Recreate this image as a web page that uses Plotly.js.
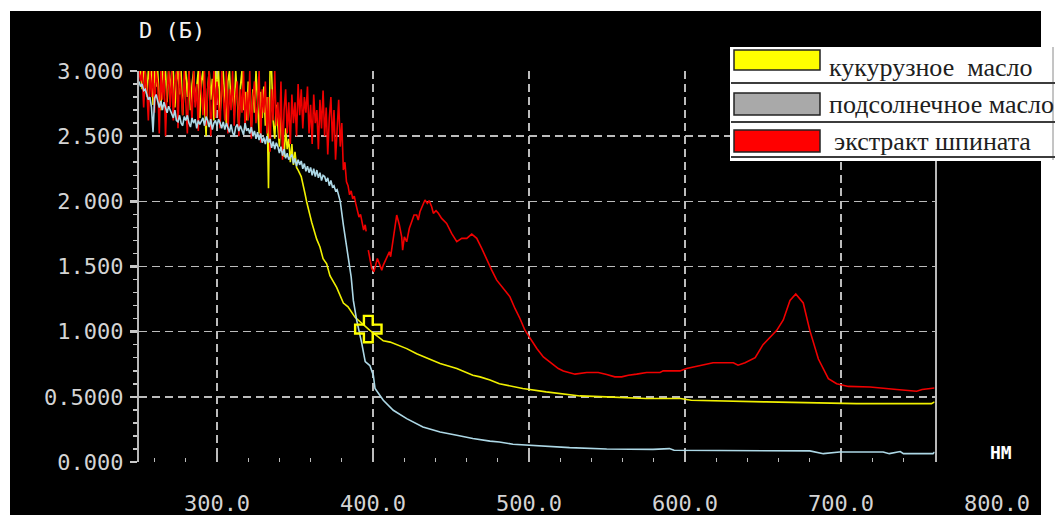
<!DOCTYPE html>
<html><head><meta charset="utf-8">
<script src="https://cdn.plot.ly/plotly-3.0.1.min.js"></script>
<style>html,body{margin:0;padding:0;background:#fff;}#chart{width:1057px;height:515px;}</style>
</head><body><div id="chart"></div>
<script>
// ---- labels ----
const seriesNames = ['кукурузное\u00a0 масло', 'подсолнечное масло', 'экстракт шпината'];
const swatchColors = ['#ffff00', '#a9a9a9', '#ff0000'];
const lineColors = ['#f0f000', '#add8e6', '#f00000'];
const yTickVals = [0, 0.5, 1, 1.5, 2, 2.5, 3];
const yTickText = ['0.000', '0.5000', '1.000', '1.500', '2.000', '2.500', '3.000'];
const xTickVals = [300, 400, 500, 600, 700, 800];
const xTickText = ['300.0', '400.0', '500.0', '600.0', '700.0', '800.0'];
const yTitle = 'D (Б)';
const xUnit = 'НМ';
const dataRange = [250, 760];
const labelRange = [250, 800];
const cursorNm = [397];
const cursorD = [1.02];

// ---- corn oil (кукурузное масло) ----
const cornNm = [
250,251,252,253,254,255,256,257,258,259,
260,261,262,263,264,265,266,267,268,269,
270,271,272,273,274,275,276,277,278,279,
280,281,282,283,284,285,286,287,288,289,
290,291,292,293,294,295,296,297,298,299,
300,301,302,303,304,305,306,307,308,309,
310,311,312,313,314,315,316,317,318,319,
320,321,322,323,324,325,326,327,328,329,
330,331,332,333,334,335,336,337,338,339,
340,341,342,343,344,345,346,347,348,349,
350,351,352,
354,356.4,357.5,360.7,363.9,366,368,370.3,372.4,376.7,381,384,388.5,398,400,406.6,411,415,421.6,428,432,436.5,443,453.7,464,468.6,475,481,496,511,522,532.7,549.8,575,597,604,652,710,758,760];
const cornD = [
3.00,3.00,2.86,3.00,3.00,2.80,3.00,2.92,3.00,2.74,
3.00,2.88,3.00,2.78,2.70,3.00,2.92,3.00,2.76,3.00,
2.86,3.00,3.00,2.72,2.92,3.00,2.82,3.00,2.66,2.92,
3.00,2.80,3.00,2.70,2.90,3.00,2.76,2.88,3.00,2.64,
2.92,3.00,2.74,2.50,2.86,3.00,2.78,2.94,2.62,3.00,
2.84,3.00,2.68,2.88,3.00,2.76,2.60,2.92,3.00,2.74,
2.86,2.66,3.00,2.80,2.56,2.88,3.00,2.70,2.84,2.62,
2.92,2.74,2.58,2.86,2.68,3.00,2.78,2.52,2.84,2.64,
2.88,2.58,2.80,2.10,3.00,3.00,2.62,2.48,2.74,2.55,
2.42,2.66,2.48,2.34,2.56,2.40,2.48,2.30,2.44,2.28,
2.38,2.26,2.24,
2.19,2.06,1.995,1.84,1.71,1.65,1.56,1.52,1.43,1.34,1.22,1.19,1.11,1.01,0.99,0.93,0.92,0.90,0.87,0.83,0.81,0.79,0.756,0.717,0.666,0.653,0.63,0.60,0.564,0.538,0.52,0.507,0.50,0.487,0.487,0.474,0.461,0.448,0.448,0.461];

// ---- sunflower oil (подсолнечное масло) ----
const sunNm = [
250,251,252,253,254,255,256,257,258,259,
260,261,262,263,264,265,266,267,268,269,
270,271,272,273,274,275,276,277,278,279,
280,281,282,283,284,285,286,287,288,289,
290,291,292,293,294,295,296,297,298,299,
300,301,302,303,304,305,306,307,308,309,
310,311,312,313,314,315,316,317,318,319,
320,321,322,323,324,325,326,327,328,329,
330,331,332,333,334,335,336,337,338,339,
340,341,342,343,344,345,346,347,348,349,
350,351,352,353,354,355,356,357,358,359,
360,361,362,363,364,365,366,367,368,369,
370,371,372,373,374,375,376,377,378,
379,381,383.5,386,387.4,388.5,389.5,392.8,395,398,400.2,401.3,406.6,413,421.6,432,443,453.7,464,475,481,489.7,507,526,549.8,579.5,590,593,680,688.7,699,727,731,738,740,759,760];
const sunD = [
2.92,2.88,2.90,2.85,2.86,2.82,2.78,2.80,2.72,2.53,
2.79,2.82,2.76,2.72,2.77,2.70,2.76,2.71,2.68,2.73,
2.70,2.66,2.64,2.70,2.62,2.61,2.66,2.60,2.58,2.65,
2.62,2.66,2.60,2.57,2.64,2.60,2.63,2.56,2.62,2.59,
2.61,2.64,2.58,2.65,2.62,2.57,2.63,2.55,2.60,2.62,
2.58,2.63,2.60,2.56,2.61,2.55,2.60,2.56,2.53,2.59,
2.53,2.50,2.57,2.59,2.54,2.58,2.55,2.51,2.60,2.54,
2.56,2.52,2.57,2.50,2.54,2.48,2.53,2.47,2.52,2.45,
2.49,2.44,2.50,2.45,2.48,2.41,2.46,2.40,2.45,2.42,
2.37,2.42,2.35,2.40,2.33,2.37,2.32,2.34,2.36,2.29,
2.33,2.27,2.32,2.28,2.31,2.25,2.29,2.23,2.27,2.22,
2.26,2.20,2.25,2.19,2.24,2.18,2.22,2.16,2.20,2.19,
2.15,2.18,2.12,2.16,2.11,2.12,2.08,2.09,2.04,
2.00,1.82,1.60,1.42,1.24,1.165,1.09,0.91,0.77,0.74,0.666,0.564,0.474,0.397,0.333,0.269,0.23,0.205,0.18,0.16,0.154,0.136,0.123,0.11,0.10,0.097,0.103,0.09,0.085,0.064,0.077,0.077,0.064,0.08,0.064,0.064,0.077];

// ---- spinach extract (экстракт шпината) ----
const spinNm = [
250,251,252,253,254,255,256,257,258,259,
260,261,262,263,264,265,266,267,268,269,
270,271,272,273,274,275,276,277,278,279,
280,281,282,283,284,285,286,287,288,289,
290,291,292,293,294,295,296,297,298,299,
300,301,302,303,304,305,306,307,308,309,
310,311,312,313,314,315,316,317,318,319,
320,321,322,323,324,325,326,327,328,329,
330,331,332,333,334,335,336,337,338,339,
340,341,342,343,344,345,346,347,348,349,
350,351,352,353,354,355,356,357,358,359,
360,361,362,363,364,365,366,367,368,369,
370,371,372,373,374,375,376,377,378,379,
380,381,382,383,384,385,386,387,388,389,
390,391,392,393,394,395,395.6,396,
397.0,398.1,399.2,400.6,401.9,402.8,404.0,405.6,406.6,408.8,410.5,411.3,413.0,414.1,415.2,416.9,418.4,419.0,420.1,421.6,
423.3,424.8,426.3,428.0,429.0,430.1,432.2,433.3,434.8,436.0,437.6,438.7,440.4,441.9,444.0,447.2,450.4,453.7,456.9,460.1,
463.3,466.5,469.7,472.9,476.1,479.3,483.5,487.8,491,494.2,497.4,500.6,505,509.2,514.6,518.8,522,529.5,537,544.4,
549.8,555,559.4,563.7,569,575.4,584,586,591.5,596.8,601,611.7,618,631,634,638.5,641.7,645,650,658.8,
663,667.3,671,675.8,680,685.5,691.9,697.2,704.7,718.6,735.7,748.5,752,760];
const spinD = [
3.00,2.92,3.00,2.72,3.00,2.86,2.62,3.00,2.80,3.00,
2.68,3.00,2.90,2.52,3.00,2.78,3.00,2.50,2.86,3.00,
2.72,3.00,2.62,2.92,3.00,2.56,3.00,2.84,2.66,3.00,
2.78,2.52,3.00,2.84,2.62,3.00,2.72,2.90,2.54,3.00,
2.80,2.66,3.00,2.58,2.86,3.00,2.50,2.80,3.00,2.64,
2.92,2.72,2.56,3.00,2.80,2.62,3.00,2.52,2.86,2.70,
3.00,2.58,2.80,2.92,2.50,2.86,2.68,3.00,2.55,2.84,
2.62,3.00,2.48,2.80,2.92,2.60,2.74,3.00,2.45,2.86,
2.68,2.92,2.52,2.80,2.38,2.86,2.62,3.00,2.58,2.76,
2.48,2.92,2.32,2.70,2.86,2.52,2.76,2.44,2.82,2.60,
2.76,2.50,2.90,2.66,2.86,2.56,2.80,2.68,2.88,2.52,
2.74,2.44,2.82,2.60,2.70,2.40,2.78,2.56,2.85,2.50,
2.72,2.36,2.64,2.80,2.46,2.70,2.32,2.60,2.78,2.42,
2.60,2.24,2.30,2.15,2.12,2.05,2.08,2.02,2.04,1.98,
1.92,1.88,1.90,1.84,1.78,1.82,1.77,null,
1.626,1.549,1.485,1.459,1.511,1.562,1.524,1.472,1.511,1.575,1.613,1.575,1.716,1.818,1.895,1.818,1.728,1.626,1.728,1.690,
1.793,1.843,1.895,1.895,1.856,1.920,1.972,2.010,1.985,2.005,1.959,1.908,1.928,1.908,1.869,1.831,1.754,1.690,1.716,1.716,
1.749,1.716,1.639,1.549,1.472,1.395,1.332,1.267,1.178,1.101,1.011,0.948,0.871,0.806,0.756,0.717,0.699,0.674,0.687,0.687,
0.671,0.653,0.653,0.666,0.674,0.687,0.687,0.699,0.699,0.699,0.717,0.743,0.761,0.761,0.743,0.761,0.78,0.80,0.90,1.01,
1.09,1.24,1.29,1.22,1.01,0.79,0.64,0.60,0.58,0.576,0.556,0.543,0.556,0.568];

// ---- page geometry ----
const W = 1057, H = 515, ML = 139, MR = 60, MT = 71, MB = 53;
const PW = W - ML - MR, PH = H - MT - MB;
const px = p => (p - ML) / PW;
const py = p => (H - MB - p) / PH;
const dataDomainEnd = (dataRange[1] - labelRange[0]) / (labelRange[1] - labelRange[0]);

const monoFont = 'DejaVu Sans Mono, monospace';
const gridCol = '#bcbcbc';

const traces = [
  {x: cornNm, y: cornD, type: 'scatter', mode: 'lines', line: {color: lineColors[0], width: 1.6}, xaxis: 'x', yaxis: 'y', name: seriesNames[0]},
  {x: spinNm, y: spinD, type: 'scatter', mode: 'lines', line: {color: lineColors[2], width: 1.6}, xaxis: 'x', yaxis: 'y', name: seriesNames[2], connectgaps: false},
  {x: sunNm, y: sunD, type: 'scatter', mode: 'lines', line: {color: lineColors[1], width: 1.6}, xaxis: 'x', yaxis: 'y', name: seriesNames[1]},
  {x: cursorNm, y: cursorD, type: 'scatter', mode: 'markers', xaxis: 'x2', yaxis: 'y2',
   marker: {symbol: 'cross-open', size: 22, color: '#ffff00', line: {color: '#ffff00', width: 2.4}}, cliponaxis: false}
];

const shapes = [
  {type: 'rect', xref: 'paper', yref: 'paper', x0: px(10), x1: px(1041), y0: py(515), y1: py(11), fillcolor: '#000', line: {width: 0}, layer: 'below'},
  // legend box
  {type: 'rect', xref: 'paper', yref: 'paper', x0: px(730), x1: px(1057), y0: py(161), y1: py(47), fillcolor: '#fff', line: {width: 0}, layer: 'above'},
  {type: 'line', xref: 'paper', yref: 'paper', x0: px(1053), x1: px(1053), y0: py(160), y1: py(47), line: {color: '#8a8a8a', width: 1}, layer: 'above'}
];
const sepY = [83, 122, 157];
sepY.forEach(s => shapes.push({type: 'line', xref: 'paper', yref: 'paper', x0: px(731), x1: px(1055), y0: py(s), y1: py(s), line: {color: '#3c3c3c', width: 2}, layer: 'above'}));
const swY = [[50, 70], [93, 115], [130, 152]];
swY.forEach((r, i) => shapes.push({type: 'rect', xref: 'paper', yref: 'paper', x0: px(734), x1: px(820), y0: py(r[1]), y1: py(r[0]), fillcolor: swatchColors[i], line: {color: '#222', width: 1.5}, layer: 'above'}));

const textY = [67, 104, 141];
const textX = [827, 827, 832];
const annotations = seriesNames.map((n, i) => ({
  text: n, xref: 'paper', yref: 'paper', x: px(textX[i]), y: py(textY[i]), xanchor: 'left', yanchor: 'middle',
  showarrow: false, font: {family: 'Liberation Serif, serif', size: 26, color: '#202020'}
}));
annotations.push({text: yTitle, xref: 'paper', yref: 'paper', x: px(172), y: py(30), xanchor: 'center', yanchor: 'middle', showarrow: false,
  font: {family: monoFont, size: 22, color: '#f4f4f4'}});
annotations.push({text: '<b>' + xUnit + '</b>', xref: 'paper', yref: 'paper', x: px(1001), y: py(452), xanchor: 'center', yanchor: 'middle', showarrow: false,
  font: {family: monoFont, size: 18, color: '#ffffff'}});

const layout = {
  width: W, height: H, margin: {l: ML, r: MR, t: MT, b: MB, pad: 0},
  paper_bgcolor: '#ffffff', plot_bgcolor: 'rgba(0,0,0,0)', showlegend: false,
  xaxis: {domain: [0, dataDomainEnd], range: dataRange, anchor: 'y', showgrid: true, gridcolor: gridCol, griddash: '8px,5px', gridwidth: 1.5,
    tickmode: 'array', tickvals: xTickVals.slice(0, 5), showticklabels: false, zeroline: false, showline: false,
    ticks: 'inside', ticklen: 6, tickwidth: 1.5, tickcolor: gridCol,
    minor: {tickmode: 'linear', tick0: 0, dtick: 20, ticks: 'inside', ticklen: 4, tickwidth: 1, tickcolor: gridCol, showgrid: false}},
  xaxis3: {overlaying: 'x', range: dataRange, anchor: 'y', showgrid: false, tickmode: 'array', tickvals: xTickVals.slice(0, 5), showticklabels: false,
    zeroline: false, showline: false, ticks: 'outside', ticklen: 6, tickwidth: 1.5, tickcolor: gridCol,
    minor: {tickmode: 'linear', tick0: 0, dtick: 20, ticks: 'outside', ticklen: 4, tickwidth: 1, tickcolor: gridCol, showgrid: false}},
  yaxis: {domain: [0, 1], range: [0, 3], anchor: 'x', showgrid: true, gridcolor: gridCol, griddash: '8px,5px', gridwidth: 1.5,
    tickmode: 'array', tickvals: yTickVals, ticktext: yTickText, zeroline: false, showline: true, linecolor: '#b8b8b8', linewidth: 2, mirror: true,
    ticks: 'outside', ticklen: 7, tickwidth: 2.5, tickcolor: '#c8c8c8', ticklabelstandoff: 2,
    tickfont: {family: monoFont, size: 22, color: '#d4d4d4'},
    minor: {tickmode: 'linear', tick0: 0, dtick: 0.1, ticks: 'outside', ticklen: 4, tickwidth: 1.5, tickcolor: '#c8c8c8', showgrid: false}},
  xaxis2: {domain: [0, 1], range: labelRange, anchor: 'y2', showgrid: false, zeroline: false, showline: false, ticks: '',
    tickmode: 'array', tickvals: xTickVals, ticktext: xTickText, ticklabelstandoff: 26,
    tickfont: {family: monoFont, size: 22, color: '#d4d4d4'}},
  yaxis2: {domain: [0, 1], range: [0, 3], anchor: 'x2', showgrid: false, zeroline: false, showline: false, showticklabels: false, ticks: ''},
  shapes: shapes, annotations: annotations
};

Plotly.newPlot('chart', traces, layout, {displayModeBar: false, staticPlot: true});
</script></body></html>
